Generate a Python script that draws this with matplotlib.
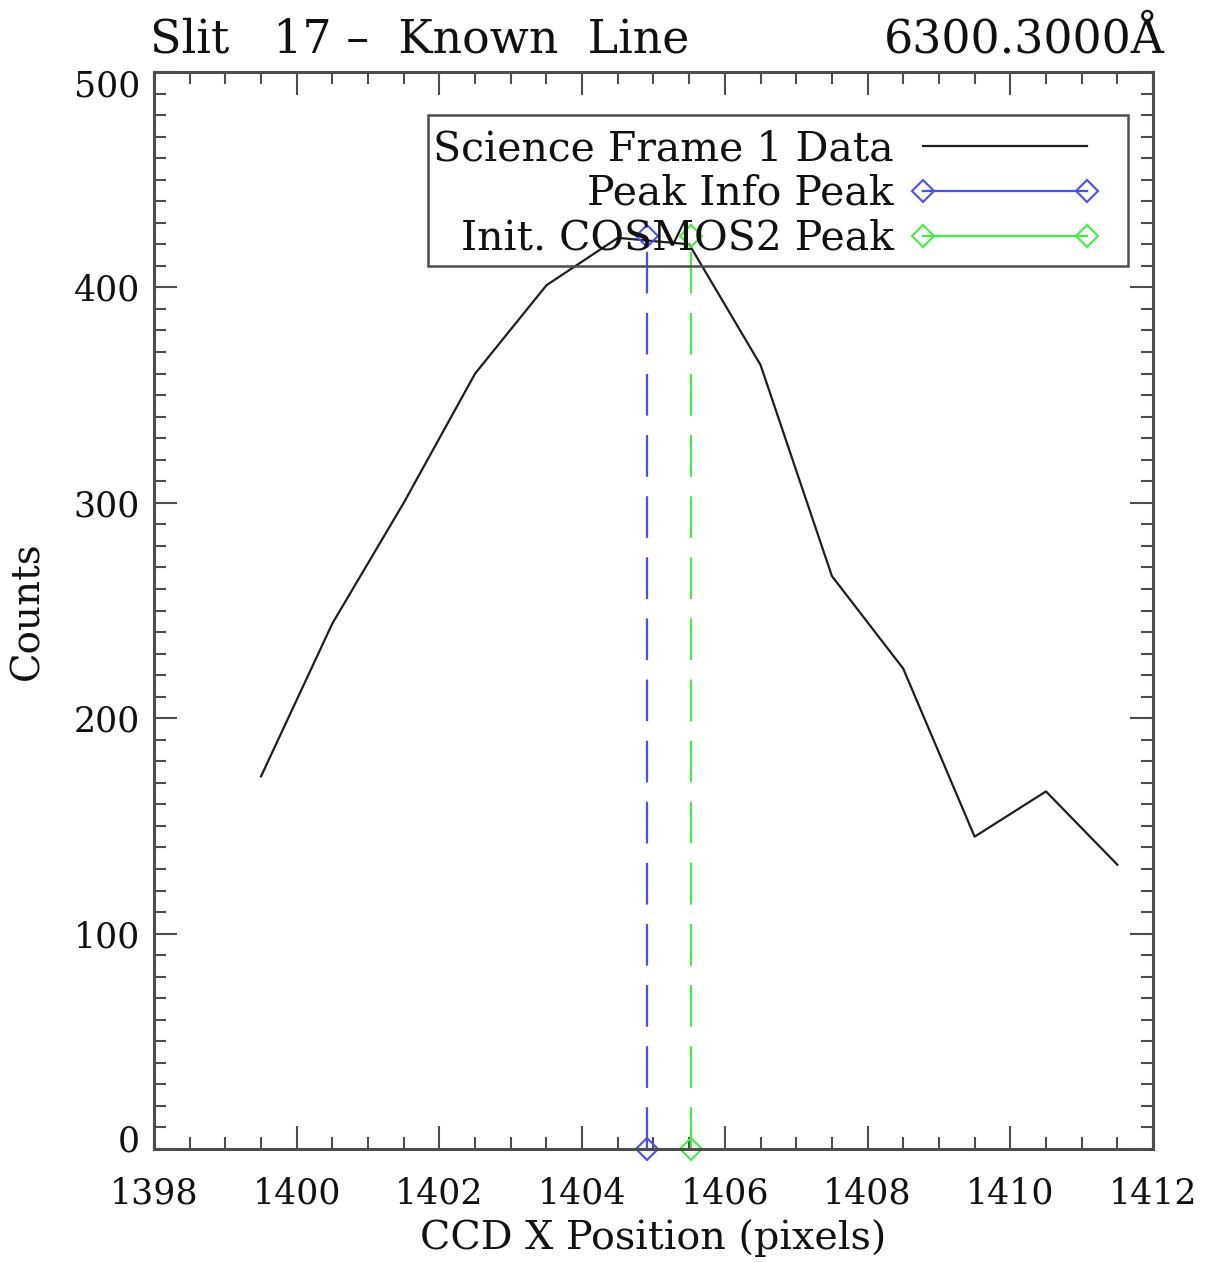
import matplotlib
matplotlib.use("Agg")
import matplotlib.pyplot as plt
from matplotlib.lines import Line2D
from matplotlib.patches import Rectangle
from matplotlib.ticker import MultipleLocator
import matplotlib.transforms as mtransforms

# ---- data ----
pixel_x = [1399.5, 1400.5, 1401.5, 1402.5, 1403.5, 1404.5, 1405.5,
           1406.5, 1407.5, 1408.5, 1409.5, 1410.5, 1411.5]
counts = [173, 244, 300, 360, 401, 423, 420, 364, 266, 223, 145, 166, 132]

peak_info_x = [1404.91, 1404.91]
peak_info_y = [0, 424]
cosmos_x = [1405.52, 1405.52]
cosmos_y = [0, 424]

series_labels = ["Science Frame 1 Data", "Peak Info Peak", "Init. COSMOS2 Peak"]
title_left = "Slit   17 –  Known  Line"
title_right = "6300.3000Å"
xlabel = "CCD X Position (pixels)"
ylabel = "Counts"

# ---- style ----
FONT = "DejaVu Serif"
plt.rcParams["font.family"] = FONT
plt.rcParams["lines.scale_dashes"] = False
AX_COL = "#4d4d4d"
BLUE = "#4c4cff"
GREEN = "#40f040"
BLACK = "#1e1e1e"

fig = plt.figure(figsize=(12.09, 12.62), dpi=100)
ax = fig.add_axes([154/1209, 1 - 1149/1262, (1153-154)/1209, (1149-72)/1262])

ax.plot(pixel_x, counts, color=BLACK, lw=1.6)
ax.plot(peak_info_x, peak_info_y, color=BLUE, lw=1.6, dashes=(30, 14),
        marker="D", ms=11.5, mfc="none", mec=BLUE, mew=1.5, clip_on=False)
ax.plot(cosmos_x, cosmos_y, color=GREEN, lw=1.6, dashes=(30, 14),
        marker="D", ms=11.5, mfc="none", mec=GREEN, mew=1.5, clip_on=False)

ax.set_xlim(1398, 1412)
ax.set_ylim(0, 500)
ax.xaxis.set_major_locator(MultipleLocator(2))
ax.xaxis.set_minor_locator(MultipleLocator(0.5))
ax.yaxis.set_major_locator(MultipleLocator(100))
ax.yaxis.set_minor_locator(MultipleLocator(10))

ax.tick_params(which="both", direction="in", top=True, right=True,
               color=AX_COL, width=1.5, labelsize=25, labelcolor="#111111")
ax.tick_params(which="major", length=16.5)
ax.tick_params(which="minor", length=8.5)
ax.tick_params(axis="x", pad=20)
ax.tick_params(axis="y", pad=10)
for s in ax.spines.values():
    s.set_color(AX_COL)
    s.set_linewidth(2.2)

ax.set_xlabel(xlabel, fontsize=28.5, color="#111111", labelpad=6)
ax.set_ylabel(ylabel, fontsize=28, color="#111111", labelpad=20)

tl = ax.set_title(title_left, loc="left", fontsize=33, color="#111111", pad=14)
tr = ax.set_title(title_right, loc="right", fontsize=33, color="#111111", pad=14)
tl.set_x(-0.004)
tr.set_x(1.012)

# IDL-like shift of end y tick labels inward
fig.canvas.draw()
for lab in ax.get_yticklabels():
    txt = lab.get_text().replace("−", "-")
    if txt == "0":
        lab.set_transform(lab.get_transform() + mtransforms.ScaledTranslation(0, 11/100, fig.dpi_scale_trans))
    elif txt == "500":
        lab.set_transform(lab.get_transform() + mtransforms.ScaledTranslation(0, -11/100, fig.dpi_scale_trans))

handles = [
    Line2D([], [], color=BLACK, lw=1.6),
    Line2D([], [], color=BLUE, lw=1.6, marker="D", ms=11.5, mfc="none", mec=BLUE, mew=1.5),
    Line2D([], [], color=GREEN, lw=1.6, marker="D", ms=11.5, mfc="none", mec=GREEN, mew=1.5),
]
leg = ax.legend(handles, series_labels, loc="upper right",
                bbox_to_anchor=(0.946, 0.947), borderaxespad=0,
                markerfirst=False, numpoints=2, handlelength=4.6,
                handletextpad=0.41, labelspacing=0.12, borderpad=0.0,
                frameon=False, prop={"family": FONT, "size": 29.5})
for t in leg.get_texts():
    t.set_color("#111111")

# legend box (IDL style, transparent)
box = Rectangle((0.2743, 0.8199), 0.975 - 0.2743, 0.9601 - 0.8199,
                transform=ax.transAxes, fill=False, edgecolor=AX_COL,
                linewidth=1.8, zorder=5)
ax.add_patch(box)

fig.savefig("out.png", dpi=100, facecolor="white")
